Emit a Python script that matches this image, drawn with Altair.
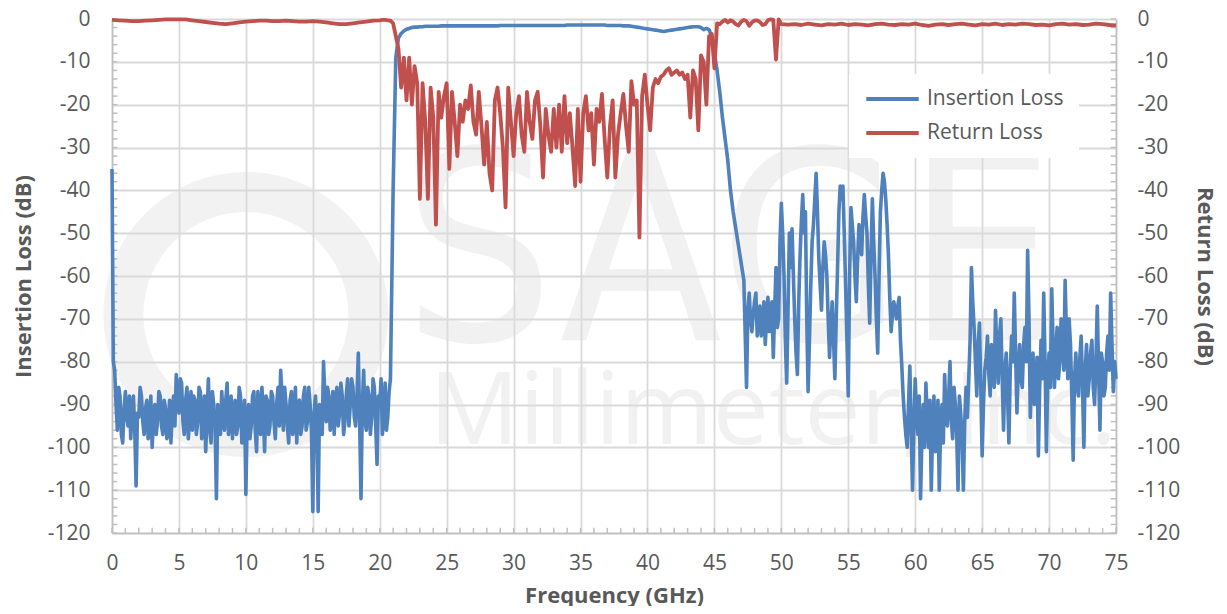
import altair as alt
import numpy as np
import pandas as pd

BLUE = "#4f81bd"
RED = "#c0504d"
GRID = "#d9d9d9"
AXIS = "#bfbfbf"
TEXT = "#595959"
FONT = "Open Sans"

series_names = ["Insertion Loss", "Return Loss"]

# ---------------- Insertion loss, 0 .. 75 GHz every 0.2 GHz ----------------
il_freq = np.round(np.arange(0, 75.0001, 0.2), 2)
il_db = [
    -35, -82, -96, -88, -99, -87, -95, -98, -88, -109,
    -93, -88, -97, -89, -95, -100, -90, -94, -88, -97,
    -91, -96, -99, -88, -83, -92, -85, -97, -86, -93,
    -96, -89, -94, -87, -95, -101, -84, -99, -90, -112,
    -92, -87, -96, -85, -94, -98, -89, -95, -88, -96,
    -111, -90, -95, -87, -101, -91, -86, -101, -89, -95,
    -88, -98, -86, -82, -96, -90, -99, -87, -93, -99,
    -89, -95, -86, -94, -90, -115, -88, -115, -92, -80,
    -94, -88, -93, -97, -86, -92, -88, -94, -84, -90,
    -86, -95, -78, -112, -82, -96, -88, -93, -86, -104,
    -90, -97, -85, -93, -84, -40, -9, -4.4, -3.4, -2.8,
    -2.4, -2.2, -2.0, -1.9, -1.9, -1.8, -1.8, -1.7, -1.7, -1.7,
    -1.7, -1.7, -1.7, -1.6, -1.6, -1.6, -1.6, -1.6, -1.6, -1.6,
    -1.6, -1.6, -1.6, -1.6, -1.6, -1.6, -1.6, -1.6, -1.6, -1.6,
    -1.6, -1.6, -1.6, -1.6, -1.6, -1.5, -1.5, -1.5, -1.5, -1.5,
    -1.5, -1.5, -1.5, -1.5, -1.5, -1.5, -1.5, -1.5, -1.5, -1.5,
    -1.5, -1.5, -1.5, -1.5, -1.5, -1.5, -1.5, -1.5, -1.5, -1.5,
    -1.4, -1.4, -1.4, -1.4, -1.4, -1.4, -1.4, -1.4, -1.4, -1.4,
    -1.4, -1.4, -1.4, -1.4, -1.4, -1.5, -1.5, -1.5, -1.5, -1.5,
    -1.5, -1.6, -1.6, -1.6, -1.7, -1.8, -1.9, -2.0, -2.1, -2.2,
    -2.3, -2.4, -2.5, -2.6, -2.7, -2.8, -2.9, -2.8, -2.7, -2.6,
    -2.5, -2.4, -2.3, -2.2, -2.1, -2.0, -1.9, -1.8, -1.8, -1.8,
    -2.0, -2.5, -2.2, -2.5, -4, -8, -12, -17, -23, -28,
    -33, -40, -45, -49, -53, -57, -61, -86, -64, -73,
    -66, -74, -67, -72, -76, -65, -71, -79, -58, -70,
    -43, -60, -85, -50, -49, -70, -83, -55, -41, -45,
    -87, -62, -48, -36, -56, -68, -52, -60, -79, -66,
    -84, -58, -39, -39, -62, -88, -44, -52, -66, -48,
    -55, -41, -50, -71, -42, -60, -78, -45, -36, -42,
    -55, -73, -66, -70, -65, -81, -93, -100, -81, -110,
    -84, -97, -112, -90, -85, -100, -110, -88, -97, -110,
    -90, -83, -95, -80, -98, -90, -110, -92, -110, -86,
    -84, -58, -72, -88, -71, -102, -82, -74, -88, -80,
    -68, -85, -70, -96, -78, -99, -74, -64, -92, -76,
    -86, -72, -54, -93, -78, -88, -102, -75, -64, -101,
    -78, -63, -86, -72, -80, -74, -61, -84, -76, -103,
    -78, -88, -74, -100, -76, -84, -75, -90, -67, -96,
    -80, -86, -74, -64, -87, -84,
]

# extra readings between the grid points in the two noisy stop bands
il_mid_low_freq = np.round(np.arange(0.1, 20.7001, 0.2), 2)
il_mid_low_db = [
    -80, -90, -86, -97, -91, -93, -88, -92, -96, -92,
    -86, -94, -91, -98, -88, -93, -97, -87, -95, -89,
    -98, -89, -92, -95, -90, -84, -94, -89, -98, -87,
    -88, -97, -86, -98, -88, -92, -96, -87, -95, -90,
    -97, -93, -89, -97, -88, -92, -97, -86, -99, -89,
    -93, -98, -88, -96, -87, -97, -92, -88, -97, -87,
    -94, -90, -95, -88, -86, -95, -89, -97, -86, -90,
    -97, -88, -96, -86, -96, -92, -95, -90, -97, -88,
    -86, -96, -87, -89, -95, -85, -97, -88, -95, -84,
    -93, -88, -94, -90, -94, -86, -97, -84, -95, -88,
    -84, -92, -96, -87,
]
il_mid_high_freq = np.round(np.arange(47.5, 74.9001, 0.2), 2)
il_mid_high_db = [
    -68, -70, -69, -64, -70, -74, -66, -70, -73, -66, -68, -72, -52,
    -50, -75, -68, -58, -60, -78, -66, -47, -50, -70,
    -75, -52, -42, -45, -62, -58, -55, -70, -72, -75,
    -70, -45, -42, -50, -75, -60, -48, -60, -56, -50,
    -46, -46, -62, -55, -52, -70, -60, -40, -38, -48,
    -65, -69, -68, -67, -75, -88, -97, -90, -96, -95,
    -92, -88, -98, -100, -93, -89, -96, -101, -89, -95,
    -99, -92, -88, -94, -86, -97, -88, -98, -94, -93,
    -75, -66, -80, -76, -86, -90, -79, -83, -76, -86,
    -78, -74, -84, -82, -88, -82, -80, -78, -82, -84,
    -76, -80, -70, -82, -90, -79, -86, -84, -80, -84,
    -86, -76, -78, -84, -70, -82, -74, -70, -88, -84,
    -86, -79, -86, -82, -88, -78, -86, -80, -82, -78,
    -88, -78, -82, -76, -80,
]

# ---------------- Return loss ----------------
rl_freq = np.round(np.concatenate([
    np.arange(0, 20.0001, 0.5),
    np.arange(20.2, 50.0001, 0.2),
    np.arange(50.5, 75.0001, 0.5),
]), 2)
rl_low = [
    -0.2, -0.3, -0.4, -0.5, -0.5, -0.4, -0.3, -0.2, -0.1, -0.1,
    -0.1, -0.1, -0.3, -0.5, -0.7, -0.9, -1.1, -1.2, -1.0, -0.8,
    -0.6, -0.5, -0.4, -0.4, -0.5, -0.5, -0.4, -0.5, -0.6, -0.6,
    -0.5, -0.6, -0.8, -1.0, -1.2, -1.2, -1.0, -0.8, -0.6, -0.4,
    -0.3,
]
rl_band = [
    -0.2, -0.2, -0.3, -0.4, -1.0, -4, -7, -16, -9, -19,
    -9, -20, -11, -15, -42, -15, -24, -42, -16, -23,
    -48, -17, -23, -18, -15, -35, -17, -24, -32, -20,
    -24, -19, -21, -15.5, -24, -27, -17, -25, -34, -24,
    -36, -40, -19, -16, -22, -30, -44, -16, -24, -32,
    -22, -18, -27, -31, -17, -24, -28, -19, -17, -25,
    -37, -21, -27, -31, -21, -30, -20, -31, -18, -29,
    -22, -30, -39, -21, -38, -22, -18, -26, -22, -34,
    -21, -24, -17.5, -28, -37, -25, -19, -37, -27, -22,
    -17.5, -25, -31, -14.5, -20, -19, -51, -18, -13, -20,
    -26, -16, -14, -15, -13.5, -13, -12, -11.5, -13, -12.5,
    -12, -13, -12.5, -14, -13, -23, -12, -14, -26, -8.5,
    -10, -20, -4, -3.5, -11.5, -1.0, -1.2, -0.6, -0.2, -0.8,
    -0.3, -0.6, -1.2, -1.5, -0.6, -0.2, -0.5, -1.6, -0.8, -0.4,
    -0.3, -0.7, -1.4, -1.2, -0.3, -0.1, -0.2, -9.5, -0.1, -1.2,
]
rl_high = [
    -1.3, -1.2, -1.4, -1.1, -1.3, -1.5, -1.2, -1.3, -1.1, -1.4,
    -1.2, -1.3, -1.5, -1.2, -1.1, -1.3, -1.4, -1.2, -1.3, -1.1,
    -1.4, -1.6, -1.3, -1.2, -1.4, -1.2, -1.1, -1.3, -1.5, -1.2,
    -1.3, -1.1, -1.4, -1.2, -1.3, -1.1, -1.2, -1.4, -1.3, -1.5,
    -1.2, -1.1, -1.3, -1.2, -1.4, -1.3, -1.1, -1.2, -1.4, -1.5,
]
rl_db = rl_low + rl_band + rl_high

assert len(il_freq) == len(il_db), (len(il_freq), len(il_db))
assert len(il_mid_low_freq) == len(il_mid_low_db), (len(il_mid_low_freq), len(il_mid_low_db))
assert len(il_mid_high_freq) == len(il_mid_high_db), (len(il_mid_high_freq), len(il_mid_high_db))
assert len(rl_freq) == len(rl_db), (len(rl_freq), len(rl_db))

x_ticks = list(range(0, 76, 5))
y_ticks = list(range(-120, 1, 10))
x_minor = list(range(0, 76))
y_minor = list(range(-120, 1, 2))

# watermark (SAGE Millimeter logo text)
wm_letters = ["S", "A", "G", "E"]
wm_letter_f = [27.4, 39.5, 52.2, 64.9]
wm_letter_db = [-75, -75, -75, -75]
wm_sub = ["Millimeter, Inc."]
wm_sub_f = [23.7]
wm_sub_db = [-99.3]
wm_logo_f = [10.0]
wm_logo_db = [-69.0]

il = pd.DataFrame({
    "f": np.concatenate([il_freq, il_mid_low_freq, il_mid_high_freq]),
    "db": il_db + il_mid_low_db + il_mid_high_db,
}).sort_values("f").reset_index(drop=True)
il["series"] = series_names[0]
rl = pd.DataFrame({"f": rl_freq, "db": rl_db, "series": series_names[1]})

xscale = alt.Scale(domain=[0, 75], nice=False, zero=False)
yscale = alt.Scale(domain=[-120, 0], nice=False, zero=False)
cscale = alt.Scale(domain=series_names, range=[BLUE, RED])

LABEL_SIZE = 21
TITLE_SIZE = 22

x_axis = alt.Axis(
    values=x_ticks, grid=True, gridColor=GRID, gridWidth=1.8,
    domainColor=AXIS, domainWidth=1.5, ticks=False,
    labelFont=FONT, labelFontSize=LABEL_SIZE, labelColor=TEXT, labelPadding=19,
    labelFlush=False, labelExpr="'' + datum.value",
    title="Frequency (GHz)", titleFont=FONT, titleFontSize=TITLE_SIZE,
    titleFontWeight="bold", titleColor=TEXT, titlePadding=12,
)
left_axis = alt.Axis(
    values=y_ticks, grid=True, gridColor=GRID, gridWidth=1.8,
    domainColor=AXIS, domainWidth=1.5, ticks=False,
    labelFont=FONT, labelFontSize=LABEL_SIZE, labelColor=TEXT, labelPadding=22,
    labelFlush=False, labelExpr="'' + datum.value",
    title="Insertion Loss (dB)", titleFont=FONT, titleFontSize=TITLE_SIZE,
    titleFontWeight="bold", titleColor=TEXT, titlePadding=12,
)
right_axis = alt.Axis(
    orient="right", values=y_ticks, grid=False,
    domainColor=AXIS, domainWidth=1.5, ticks=False,
    labelFont=FONT, labelFontSize=LABEL_SIZE, labelColor=TEXT, labelPadding=21,
    labelFlush=False, labelExpr="'' + datum.value",
    title="Return Loss (dB)", titleFont=FONT, titleFontSize=TITLE_SIZE,
    titleFontWeight="bold", titleColor=TEXT, titlePadding=13,
)
legend = alt.Legend(
    orient="none", legendX=737, legendY=55, title=None,
    symbolType="stroke", symbolSize=2750, symbolStrokeWidth=4,
    clipHeight=20,
    labelFont=FONT, labelFontSize=21, labelColor=TEXT, labelOffset=6,
    fillColor="white", padding=15, rowPadding=13,
)


def X(field):
    return alt.X(field, scale=xscale, axis=x_axis)


def Y(field):
    return alt.Y(field, scale=yscale, axis=left_axis)


# watermark layers
wm_big = alt.Chart(pd.DataFrame({"f": wm_letter_f, "db": wm_letter_db, "t": wm_letters})).mark_text(
    font="Liberation Sans Narrow, DejaVu Sans Condensed, sans-serif", fontSize=264,
    color="#dedede", opacity=0.42, align="center", baseline="alphabetic",
).encode(x=X("f:Q"), y=Y("db:Q"), text="t:N")

wm_small = alt.Chart(pd.DataFrame({"f": wm_sub_f, "db": wm_sub_db, "t": wm_sub})).mark_text(
    font=FONT, fontSize=100, color="#dedede", opacity=0.42, align="left", baseline="alphabetic",
).encode(x=X("f:Q"), y=Y("db:Q"), text="t:N")

wm_logo = alt.Chart(pd.DataFrame({"f": wm_logo_f, "db": wm_logo_db})).mark_point(
    shape="circle", filled=False, size=245 ** 2, strokeWidth=40,
    color="#dedede", opacity=0.38,
).encode(x=X("f:Q"), y=Y("db:Q"))

# minor ticks
tick_bottom = alt.Chart(pd.DataFrame({"f": x_minor})).mark_rule(color=AXIS, strokeWidth=1.5).encode(
    x=X("f:Q"),
    y=alt.YDatum(-120, scale=yscale, axis=left_axis),
    y2=alt.Y2Datum(-118.8),
)
tick_left = alt.Chart(pd.DataFrame({"db": y_minor})).mark_rule(color=AXIS, strokeWidth=1.5).encode(
    y=Y("db:Q"),
    x=alt.XDatum(0, scale=xscale, axis=x_axis),
    x2=alt.X2Datum(0.4),
)
tick_right = alt.Chart(pd.DataFrame({"db": y_minor})).mark_rule(color=AXIS, strokeWidth=1.5).encode(
    y=Y("db:Q"),
    x=alt.XDatum(74.6, scale=xscale, axis=x_axis),
    x2=alt.X2Datum(75),
)

blue = alt.Chart(il).mark_line(strokeWidth=3.6, strokeJoin="round").encode(
    x=X("f:Q"),
    y=Y("db:Q"),
    color=alt.Color("series:N", scale=cscale, legend=legend),
)
red = alt.Chart(rl).mark_line(strokeWidth=3.8, strokeJoin="round").encode(
    x=X("f:Q"),
    y=alt.Y("db:Q", scale=yscale, axis=right_axis),
    color=alt.Color("series:N", scale=cscale, legend=legend),
)

left_group = alt.layer(wm_logo, wm_big, wm_small, tick_bottom, tick_left, tick_right, blue)

chart = alt.layer(left_group, red).resolve_scale(y="independent").properties(
    width=1004, height=514,
    padding={"left": 4, "top": 0, "right": 0, "bottom": 0},
    background="white",
).configure_view(stroke=None)

chart.save("out.html", embed_options={"renderer": "svg", "actions": False})
